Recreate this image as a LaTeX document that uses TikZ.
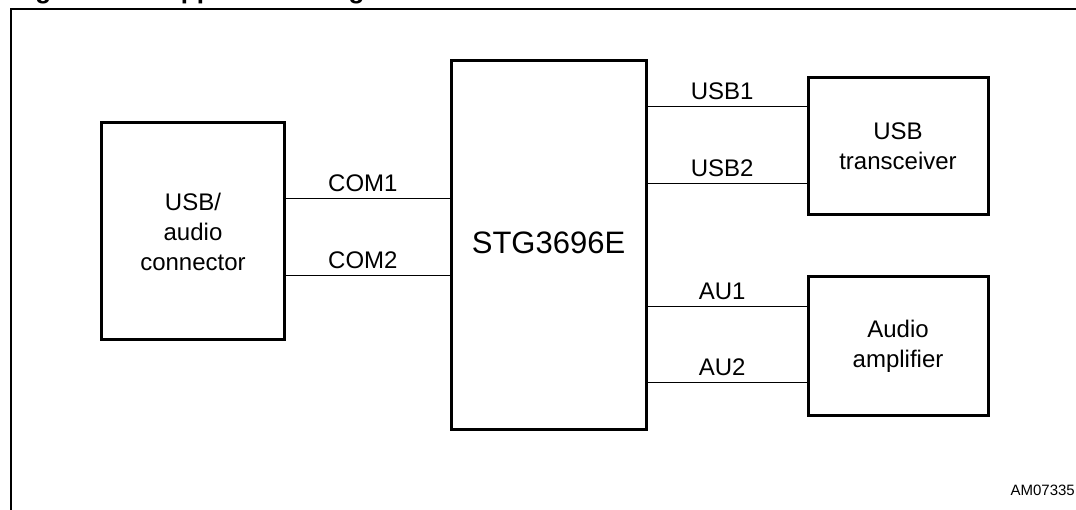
\documentclass[tikz,border=0pt]{standalone}
\usepackage{fontspec}
\setmainfont{Liberation Sans}
\begin{document}
\begin{tikzpicture}[x=1pt,y=-1pt,
  box/.style={draw, line width=3pt, inner sep=0pt, align=center,
    font=\fontsize{24}{30}\selectfont},
  wire/.style={line width=1pt},
  sig/.style={font=\fontsize{24}{28}\selectfont, inner sep=0pt, above=7pt, pos=0.47},
  frameline/.style={line width=2pt},
  titletext/.style={anchor=base west, inner sep=0pt, font=\bfseries\fontsize{26}{30}\selectfont}
]
\useasboundingbox (0,0) rectangle (1076,510);
\clip (0,0) rectangle (1076,510);
% cut-off title
\node[titletext] (title1) at (12,-1) {Figure};
\node[titletext] (title2) at (162,-1) {Application diagram};
% frame
\draw[frameline] (1090,9) -- (11,9) -- (11,520);
% boxes
\node[box, minimum width=183pt, minimum height=217pt] (conn) at (193,231.5) {USB/\\audio\\connector};
\node[box, minimum width=195pt, minimum height=368pt, font=\fontsize{31}{36}\selectfont] (chip) at (548.5,245) {\raisebox{4.5pt}{STG3696E}};
\node[box, minimum width=180pt, minimum height=137pt] (usb) at (898,146.5) {USB\\transceiver};
\node[box, minimum width=180pt, minimum height=138pt] (audio) at (898,346) {Audio\\amplifier};
% connectors
\draw[wire] (conn.east |- 0,199) -- node[sig] {COM1} (chip.west |- 0,199);
\draw[wire] (conn.east |- 0,276) -- node[sig] {COM2} (chip.west |- 0,276);
\draw[wire] (chip.east |- 0,107) -- node[sig] {USB1} (usb.west |- 0,107);
\draw[wire] (chip.east |- 0,184) -- node[sig] {USB2} (usb.west |- 0,184);
\draw[wire] (chip.east |- 0,307) -- node[sig] {AU1} (audio.west |- 0,307);
\draw[wire] (chip.east |- 0,383) -- node[sig] {AU2} (audio.west |- 0,383);
% figure code
\node[anchor=base east, inner sep=0pt, font=\fontsize{15}{18}\selectfont] (code) at (1075,495) {AM07335};
\end{tikzpicture}
\end{document}
